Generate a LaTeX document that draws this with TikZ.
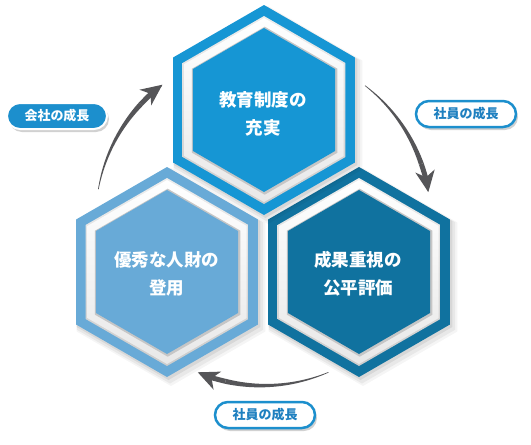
\documentclass[tikz,border=0pt]{standalone}
\usepackage{fontspec}
\newfontfamily\cjk{Noto Sans CJK JP}
\usetikzlibrary{shapes.geometric,shapes.misc,calc,arrows.meta,shadows}
\definecolor{topblue}{RGB}{22,150,212}
\definecolor{darkblue}{RGB}{16,114,159}
\definecolor{lightblue}{RGB}{104,170,215}
\definecolor{pillblue}{RGB}{28,143,205}
\definecolor{pilltext}{RGB}{30,128,192}
\definecolor{arrowgray}{RGB}{85,85,88}
\tikzset{
  hexs/.style={regular polygon, regular polygon sides=6, shape border rotate=30,
    inner sep=0pt, outer sep=0pt, minimum size=#1},
  hextext/.style={text=white, align=center, font=\cjk\bfseries\fontsize{17.5}{28}\selectfont, inner sep=0pt},
  pillbase/.style={rounded rectangle, minimum width=100pt, minimum height=26pt, inner sep=0pt,
    font=\cjk\bfseries\fontsize{13}{13}\selectfont,
    drop shadow={shadow xshift=2pt, shadow yshift=-3pt, opacity=0.18, fill=black}},
  pillfill/.style={pillbase, fill=pillblue, draw=white, line width=2pt, text=white},
  pillline/.style={pillbase, fill=white, draw=pillblue, line width=2.5pt, text=pilltext},
}
\newcommand\hexcell[4]{%
  \node[hexs=218, fill=black, fill opacity=0.04] (#1-sh1) at (#2+4,#3+5) {};
  \node[hexs=215, fill=black, fill opacity=0.05] (#1-sh2) at (#2+3,#3+4) {};
  \node[hexs=212, fill=black, fill opacity=0.07] (#1-sh3) at (#2+1.5,#3+2) {};
  \node[hexs=210, fill=#4] (#1-band) at (#2,#3) {};
  \node[hexs=188, top color=gray!14, bottom color=gray!40] (#1-ring) at (#2,#3) {};
  \node[hexs=184, top color=white, bottom color=gray!18] (#1-ringin) at (#2,#3) {};
  \node[hexs=168, fill=gray!45] (#1-edge) at (#2+0.7,#3+0.7) {};
  \node[hexs=164, fill=#4] (#1) at (#2,#3) {};
}
\newcommand\tarrow[3]{% start angle, body end angle, tip angle
  \fill[arrowgray] plot[domain=#1:#2, samples=40]
    ({263.1+(167.3+0.3+2.2*(\x-#1)/(#2-#1))*cos(\x)}, {218.3+(167.3+0.3+2.2*(\x-#1)/(#2-#1))*sin(\x)})
    -- plot[domain=#2:#1, samples=40]
    ({263.1+(167.3-0.3-2.2*(\x-#1)/(#2-#1))*cos(\x)}, {218.3+(167.3-0.3-2.2*(\x-#1)/(#2-#1))*sin(\x)})
    -- cycle;
  \draw[arrowgray, line width=5pt, -{Stealth[length=21pt,width=19pt,inset=6pt]}]
    ($(O)+(#2:167.3)$) arc[start angle=#2, end angle=#3, radius=167.3];
}
\begin{document}
\begin{tikzpicture}[x=1pt,y=-1pt]
\fill[white] (0,0) rectangle (531,445);
\useasboundingbox (0,0) rectangle (531,445);
\coordinate (O) at (263.1,218.3);

\tarrow{190}{223}{233}
\tarrow{307.5}{341}{351}
\tarrow{67}{103}{113}

\hexcell{hl}{167}{272}{lightblue}
\hexcell{hr}{359}{272}{darkblue}
\hexcell{ht}{264}{110}{topblue}

\node[hextext] (t-top) at (263,114) {教育制度の\\充実};
\node[hextext] (t-left) at (166.5,274) {優秀な人財の\\登用};
\node[hextext] (t-right) at (358,274) {成果重視の\\公平評価};

\node[pillfill] (company) at (57,116) {会社の成長};
\node[pillline] (staff1) at (466,114) {社員の成長};
\node[pillline] (staff2) at (265,415) {社員の成長};
\end{tikzpicture}
\end{document}
